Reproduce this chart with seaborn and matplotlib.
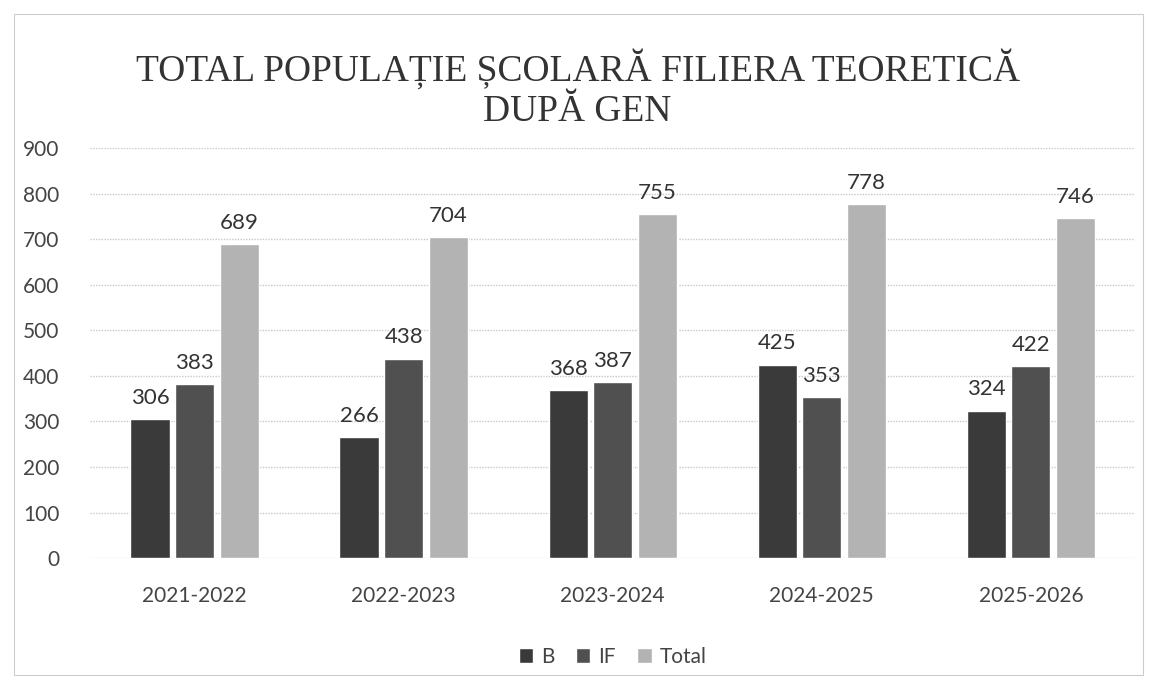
import pandas as pd
import seaborn as sns
import matplotlib.pyplot as plt

# Values
years = ["2021-2022", "2022-2023", "2023-2024", "2024-2025", "2025-2026"]
b_vals = [306, 266, 368, 425, 324]
if_vals = [383, 438, 387, 353, 422]
total_vals = [689, 704, 755, 778, 746]
series = ["B", "IF", "Total"]
colors = ["#3a3a3a", "#505050", "#b3b3b3"]

data = pd.DataFrame({
    "an": years * 3,
    "serie": [s for s in series for _ in years],
    "valoare": b_vals + if_vals + total_vals,
})

sns.set_style("white")
plt.rcParams['font.family'] = ['Lato', 'DejaVu Sans']

fig = plt.figure(figsize=(11.55, 6.89), dpi=100)
ax = fig.add_axes([0.078, 0.19, 0.905, 0.595])

sns.barplot(data=data, x="an", y="valoare", hue="serie", palette=colors,
            width=0.64, gap=0.12, ax=ax, legend=True)

for cont in ax.containers:
    ax.bar_label(cont, fmt="%d", padding=8, fontsize=16, color="#333333")

ax.set_ylim(0, 900)
ax.set_yticks(range(0, 901, 100))
ax.yaxis.grid(True, color="#c8c8c8", linestyle=(0, (1, 1)), linewidth=1)
ax.set_axisbelow(True)
for s in ax.spines.values():
    s.set_visible(False)
ax.tick_params(axis="both", length=0, labelsize=15, colors="#444444")
ax.tick_params(axis="x", pad=20)
ax.tick_params(axis="y", pad=22)
ax.set_xlabel("")
ax.set_ylabel("")

leg = ax.legend(loc="upper center", bbox_to_anchor=(0.5, -0.17), ncol=3,
                frameon=False, fontsize=15, handlelength=0.7, handleheight=0.7,
                handletextpad=0.4, columnspacing=1.0)
for t in leg.get_texts():
    t.set_color("#444444")

fig.text(0.5, 0.813, "TOTAL POPULAȚIE ȘCOLARĂ FILIERA TEORETICĂ\nDUPĂ GEN",
         ha="center", va="bottom", fontsize=27, color="#333333",
         family=["Liberation Serif", "DejaVu Serif"], linespacing=1.2)

fig.patches.append(plt.Rectangle((0.012, 0.02), 0.978, 0.96, transform=fig.transFigure,
                                 fill=False, edgecolor="#cccccc", linewidth=0.8))

plt.savefig("out.png", dpi=100)
